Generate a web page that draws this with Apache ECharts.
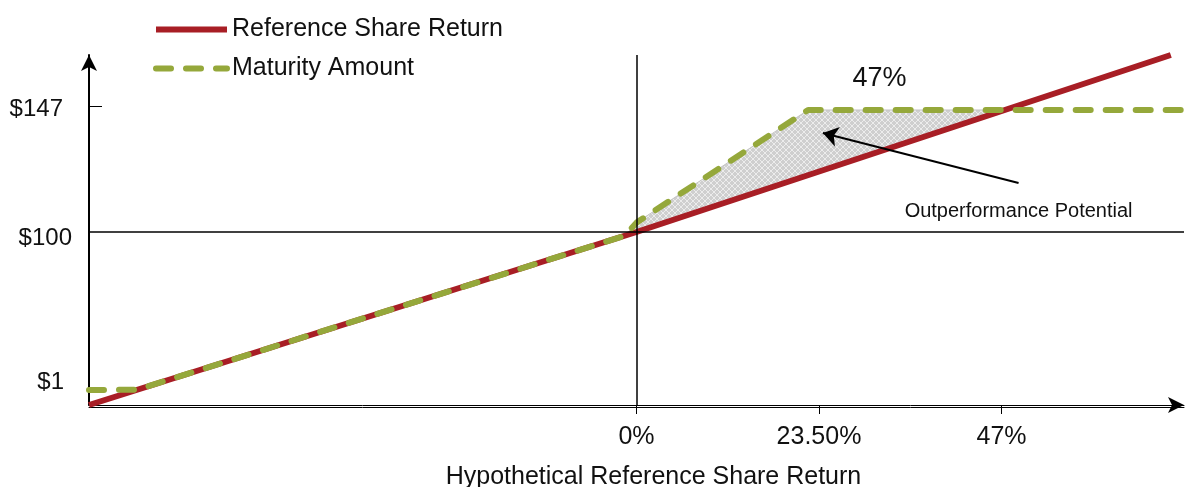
<!DOCTYPE html>
<html lang="en">

<head>
    <meta charset="UTF-8">
    <title>Outperformance Potential</title>
    <script type="text/javascript" src="https://cdn.jsdelivr.net/npm/echarts@6/dist/echarts.min.js"></script>
    <style>
        html,
        body {
            margin: 0;
            padding: 0;
            width: 100%;
            height: 100%;
            background: #fff;
        }

        #container {
            width: 1185px;
            height: 487px;
        }
    </style>
</head>

<body>
    <div id="container"></div>
    <script>
        // reference share: return (%) -> value ($, schematic)
        let refX = [-70.5, 0, 68.8];
        let refY = [35.5, 100, 166];
        // maturity amount (capped)
        let matX = [-70.5, -64.3, -1.5, 0, 22.1, 70.5];
        let matY = [41.1, 41.2, 98.6, 103.5, 145.5, 145.5];
        // shaded region between the two lines
        let fillX = [-1.5, 0, 22.1, 47.4];
        let fillTop = [98.6, 103.5, 145.5, 145.5];
        let fillBottom = [98.6, 100, 121.2, 145.5];
        // axis ticks
        let xTicks = [0, 23.5, 47];
        let xTickLabels = ['0%', '23.50%', '47%'];
        let yTicks = [44, 100, 147];
        let yTickLabels = ['$1', '$100', '$147'];

        const font = '"Liberation Sans", Arial, sans-serif';
        const red = '#a81e25';
        const green = '#95a83b';

        function hatch() {
            let c = document.createElement('canvas');
            c.width = 6;
            c.height = 6;
            let ctx = c.getContext('2d');
            ctx.fillStyle = '#cfcfcf';
            ctx.fillRect(0, 0, 6, 6);
            ctx.strokeStyle = '#ececec';
            ctx.lineWidth = 1;
            ctx.beginPath();
            ctx.moveTo(0, 0);
            ctx.lineTo(6, 6);
            ctx.moveTo(6, 0);
            ctx.lineTo(0, 6);
            ctx.stroke();
            return c;
        }

        let chart = echarts.init(document.getElementById('container'));
        let pattern = { image: hatch(), repeat: 'repeat' };

        let option = {
            animation: false,
            textStyle: { fontFamily: font, color: '#111' },
            legend: {
                orient: 'vertical',
                left: 148,
                top: 12,
                itemWidth: 71,
                itemHeight: 6,
                itemGap: 14,
                itemTextGap: 3,
                itemStyle: { opacity: 0 },
                lineStyle: { width: 6 },
                textStyle: { fontSize: 25, color: '#111', fontFamily: font },
                data: ['Reference Share Return', 'Maturity Amount'],
            },
            grid: {
                left: 89,
                right: 1,
                top: 55,
                bottom: 82,
                containLabel: false,
                outerBoundsMode: 'none',
            },
            xAxis: [{
                type: 'value',
                min: -70.5,
                max: 70.5,
                name: 'Hypothetical Reference Share Return',
                nameLocation: 'middle',
                nameGap: 60,
                nameTextStyle: { fontSize: 25, color: '#111', fontFamily: font, padding: [0, 0, 0, 34] },
                axisLine: {
                    show: true,
                    onZero: false,
                    symbol: ['none', 'arrow'],
                    symbolSize: [12, 16],
                    lineStyle: { color: '#000', width: 1 },
                },
                axisTick: {
                    show: true,
                    length: 9,
                    customValues: xTicks,
                    lineStyle: { color: '#000', width: 1 },
                },
                axisLabel: {
                    show: true,
                    margin: 20,
                    fontSize: 25,
                    color: '#111',
                    customValues: xTicks,
                    formatter: v => xTickLabels[xTicks.indexOf(v)],
                },
                splitLine: { show: false },
            }, {
                type: 'value',
                min: -70.5,
                max: 70.5,
                position: 'bottom',
                offset: 2,
                axisLine: { show: true, onZero: false, lineStyle: { color: '#000', width: 1 } },
                axisTick: { show: false },
                axisLabel: { show: false },
                splitLine: { show: false },
            }],
            yAxis: {
                type: 'value',
                min: 35.5,
                max: 166,
                axisLine: {
                    show: true,
                    onZero: false,
                    symbol: ['none', 'arrow'],
                    symbolSize: [12, 16],
                    lineStyle: { color: '#000', width: 2 },
                },
                axisTick: {
                    show: true,
                    inside: true,
                    length: 13,
                    customValues: [147],
                    lineStyle: { color: '#000', width: 1 },
                },
                axisLabel: {
                    show: true,
                    margin: 17,
                    fontSize: 24,
                    color: '#111',
                    customValues: yTicks,
                    formatter: v => '{t' + yTicks.indexOf(v) + '|' + yTickLabels[yTicks.indexOf(v)] + '}',
                    rich: {
                        t0: { fontSize: 24, color: '#111', padding: [0, 8, 0, 0] },
                        t1: { fontSize: 24, color: '#111', padding: [12, 0, 0, 0] },
                        t2: { fontSize: 24, color: '#111', padding: [6, 9, 0, 0] },
                    },
                },
                splitLine: { show: false },
            },
            series: [{
                    name: 'fill',
                    type: 'custom',
                    silent: true,
                    z: 1,
                    data: fillX.map((x, i) => [x, fillTop[i]]),
                    renderItem: (params, api) => {
                        if (params.dataIndex !== 0) return;
                        let pts = [];
                        for (let i = 0; i < fillX.length; i++) {
                            pts.push(api.coord([fillX[i], fillTop[i]]));
                        }
                        for (let i = fillX.length - 1; i >= 0; i--) {
                            pts.push(api.coord([fillX[i], fillBottom[i]]));
                        }
                        return {
                            type: 'polygon',
                            shape: { points: pts },
                            style: { fill: pattern, stroke: '#c4c4c4', lineWidth: 1 },
                        };
                    },
                },
                {
                    name: 'Reference Share Return',
                    type: 'line',
                    z: 3,
                    symbol: 'none',
                    color: red,
                    lineStyle: { color: red, width: 6 },
                    data: refX.map((x, i) => [x, refY[i]]),
                    markLine: {
                        silent: true,
                        symbol: 'none',
                        label: { show: false },
                        lineStyle: { color: '#000', width: 1.5, type: 'solid' },
                        data: [{ xAxis: 0 }, { yAxis: 100 }],
                    },
                },
                {
                    name: 'Maturity Amount',
                    type: 'line',
                    z: 4,
                    symbol: 'none',
                    color: green,
                    lineStyle: { color: green, width: 6, type: [15, 15], cap: 'round' },
                    data: matX.map((x, i) => [x, matY[i]]),
                    markLine: {
                        silent: true,
                        symbol: ['none', 'arrow'],
                        symbolSize: 15,
                        label: { show: false },
                        lineStyle: { color: '#000', width: 2, type: 'solid' },
                        data: [
                            [{ coord: [49.2, 118.3] }, { coord: [24.0, 136.9] }],
                        ],
                    },
                    markPoint: {
                        silent: true,
                        symbol: 'circle',
                        symbolSize: 0,
                        label: { show: true, color: '#111', fontFamily: font },
                        data: [{
                                coord: [31.3, 157.4],
                                value: '47%',
                                label: { fontSize: 27, formatter: '47%' },
                            },
                            {
                                coord: [49.2, 107.8],
                                value: 'Outperformance Potential',
                                label: { fontSize: 20, formatter: 'Outperformance Potential' },
                            },
                        ],
                    },
                },
            ],
        };
        chart.setOption(option);
    </script>
</body>

</html>
